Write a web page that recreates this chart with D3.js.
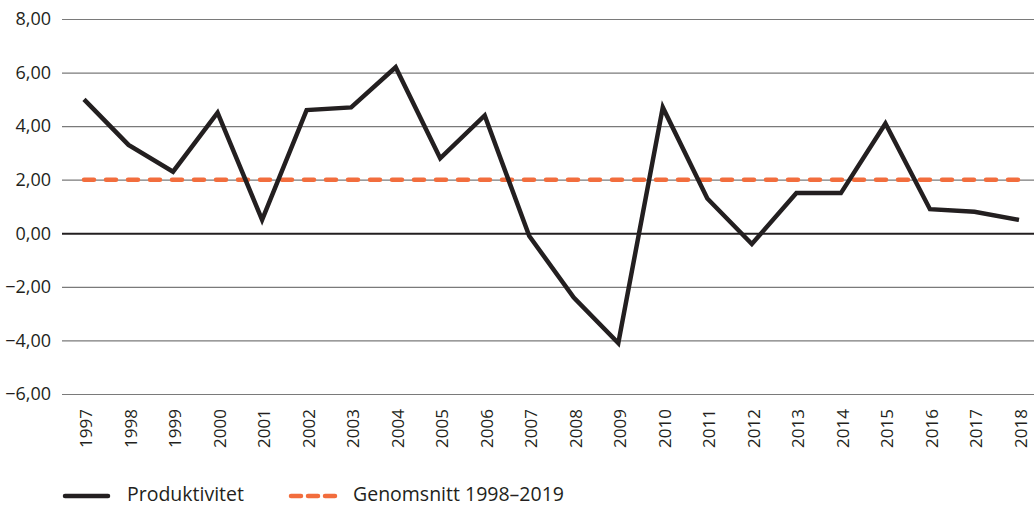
<!DOCTYPE html>
<html>
<head>
<meta charset="utf-8">
<script src="https://cdn.jsdelivr.net/npm/d3@7"></script>
<style>
  body { margin: 0; background: #fff; }
  svg { display: block; }
  text { font-family: "Open Sans", sans-serif; fill: #231f20; }
</style>
</head>
<body>
<div id="chart"></div>
<script>
// data
var years = ["1997","1998","1999","2000","2001","2002","2003","2004","2005","2006","2007",
             "2008","2009","2010","2011","2012","2013","2014","2015","2016","2017","2018"];
var produktivitet = [5.0, 3.3, 2.3, 4.5, 0.5, 4.6, 4.7, 6.2, 2.8, 4.4, -0.1,
                     -2.4, -4.1, 4.7, 1.3, -0.4, 1.5, 1.5, 4.1, 0.9, 0.8, 0.5];
var genomsnitt = 2.0;
var yTicks = [-6, -4, -2, 0, 2, 4, 6, 8];
var seriesNames = ["Produktivitet", "Genomsnitt 1998\u20132019"];

var width = 1034, height = 506;

var svg = d3.select("#chart")
  .append("svg")
    .attr("width", width)
    .attr("height", height);

var x = d3.scalePoint()
  .domain(years)
  .range([84, 1019]);

var y = d3.scaleLinear()
  .domain([-6, 8])
  .range([394, 19]);

var fmt = function(d) {
  return d3.format(".2f")(d).replace(".", ",").replace("-", "\u2212");
};

// gridlines
svg.append("g")
  .selectAll("line")
  .data(yTicks)
  .enter().append("line")
    .attr("x1", 62)
    .attr("x2", width)
    .attr("y1", function(d) { return y(d) + 0.5; })
    .attr("y2", function(d) { return y(d) + 0.5; })
    .attr("stroke", function(d) { return d === 0 ? "#231f20" : "#7a7a7a"; })
    .attr("stroke-width", function(d) { return d === 0 ? 2 : 1.2; });

// y labels
svg.append("g")
  .selectAll("text")
  .data(yTicks)
  .enter().append("text")
    .attr("x", 51)
    .attr("y", function(d) { return y(d); })
    .attr("dy", "0.35em")
    .attr("text-anchor", "end")
    .style("font-size", "18px")
    .text(fmt);

// x labels, rotated
svg.append("g")
  .selectAll("text")
  .data(years)
  .enter().append("text")
    .attr("transform", function(d) { return "translate(" + (x(d) + 8) + ",409) rotate(-90)"; })
    .attr("text-anchor", "end")
    .style("font-size", "17px")
    .text(function(d) { return d; });

// average line
svg.append("line")
  .attr("x1", x(years[0]))
  .attr("x2", x(years[years.length - 1]))
  .attr("y1", y(genomsnitt))
  .attr("y2", y(genomsnitt))
  .attr("stroke", "#f26d3d")
  .attr("stroke-width", 4.5)
  .attr("stroke-linecap", "round")
  .attr("stroke-dasharray", "10,12");

// productivity line
svg.append("path")
  .datum(produktivitet)
  .attr("fill", "none")
  .attr("stroke", "#231f20")
  .attr("stroke-width", 4.5)
  .attr("stroke-linejoin", "miter")
  .attr("d", d3.line()
    .x(function(d, i) { return x(years[i]); })
    .y(function(d) { return y(d); }));

// legend
var legend = svg.append("g");
legend.append("line")
  .attr("x1", 65).attr("x2", 108)
  .attr("y1", 496).attr("y2", 496)
  .attr("stroke", "#231f20")
  .attr("stroke-width", 4.5)
  .attr("stroke-linecap", "round");
legend.append("text")
  .attr("x", 127).attr("y", 501)
  .style("font-size", "19.5px")
  .text(seriesNames[0]);
legend.append("line")
  .attr("x1", 291).attr("x2", 335)
  .attr("y1", 496).attr("y2", 496)
  .attr("stroke", "#f26d3d")
  .attr("stroke-width", 4.5)
  .attr("stroke-linecap", "round")
  .attr("stroke-dasharray", "10,7");
legend.append("text")
  .attr("x", 353).attr("y", 501)
  .style("font-size", "19.5px")
  .text(seriesNames[1]);
</script>
</body>
</html>
